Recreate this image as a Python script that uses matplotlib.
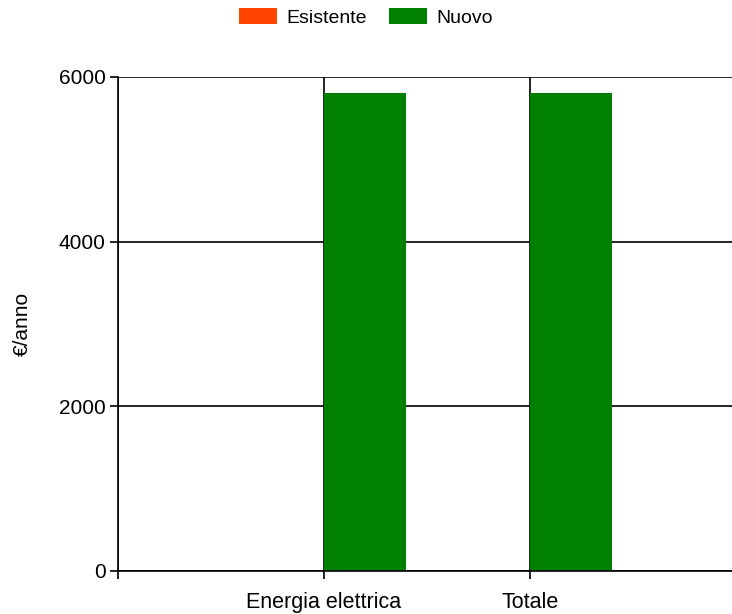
import matplotlib.pyplot as plt
import numpy as np

plt.rcParams['font.family'] = ['Liberation Sans', 'DejaVu Sans']

categorie = ['Energia elettrica', 'Totale']
esistente = [0, 0]
nuovo = [5800, 5800]

fig = plt.figure(figsize=(7.32, 6.14), dpi=100)
ax = fig.add_axes([118 / 732, 1 - 571 / 614, 1 - 118 / 732, (571 - 77) / 614])

x = np.arange(1, len(categorie) + 1)
w = 0.4
ax.bar(x - w, esistente, w, align='edge', color='#FF4500', label='Esistente')
ax.bar(x, nuovo, w, align='edge', color='#008000', label='Nuovo')

ax.set_xlim(0, (732 - 118) / 206)
ax.set_ylim(0, 6000)
ax.set_yticks([0, 2000, 4000, 6000])
ax.set_xticks([0] + list(x))
ax.set_xticklabels([''] + categorie)

ax.grid(True, color='black', linewidth=1.2)
ax.set_axisbelow(True)
for s in ['top', 'right']:
    ax.spines[s].set_visible(False)
for s in ['left', 'bottom']:
    ax.spines[s].set_linewidth(1.2)
ax.tick_params(labelsize=15, length=6, width=1.2, pad=3)
ax.tick_params(axis='x', labelsize=15.5, pad=9)
ax.set_ylabel('€/anno', fontsize=15)
ax.yaxis.set_label_coords(-(118 - 32) / 614, 0.5)

fig.legend(loc='upper center', bbox_to_anchor=(0.5, 1.015), ncol=2, frameon=False,
           fontsize=14, handlelength=1.95, handleheight=0.9, columnspacing=1.1,
           handletextpad=0.5)

fig.savefig('out.png', dpi=100)
